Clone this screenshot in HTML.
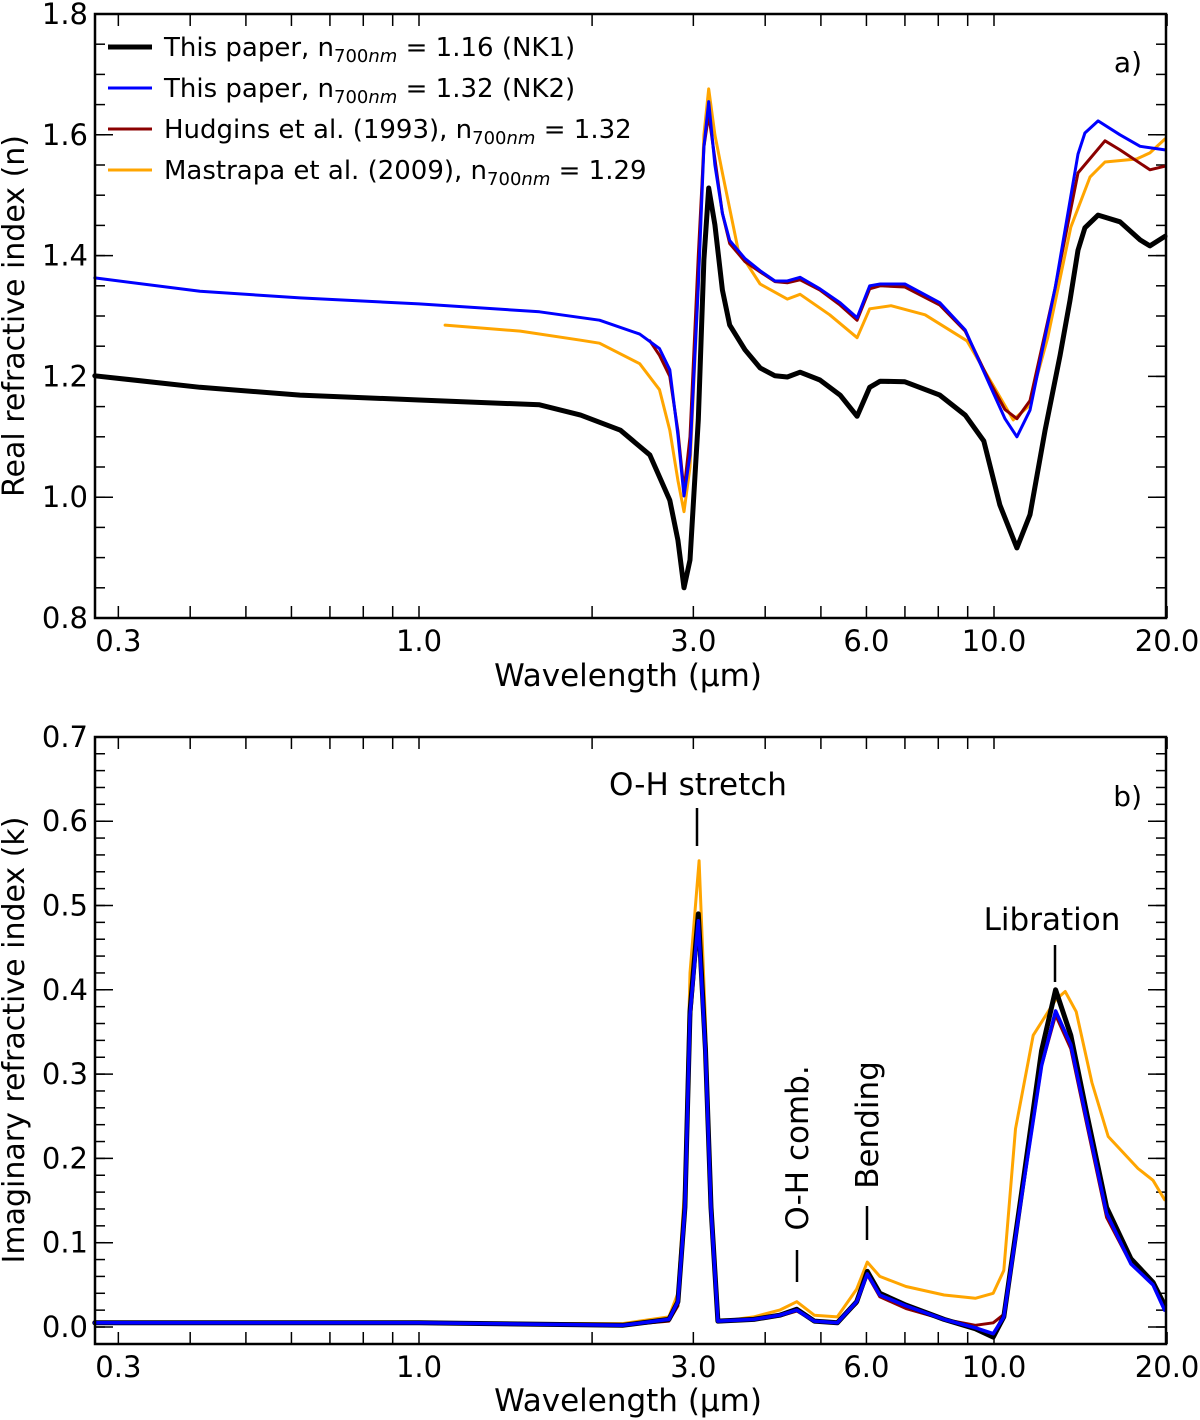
<!DOCTYPE html>
<html><head><meta charset="utf-8"><style>
body{margin:0;background:#fff}
svg{display:block;font-family:"DejaVu Sans","Liberation Sans",sans-serif}
</style></head><body>
<svg id="chart" width="1200" height="1420" viewBox="0 0 1200 1420" xmlns="http://www.w3.org/2000/svg"></svg>
<script>
// ---- Panel a data (wavelength µm, n) ----
const nk1W=[0.273,0.416,0.621,1.00,1.62,1.91,2.24,2.52,2.73,2.82,2.89,2.96,3.06,3.13,3.19,3.27,3.37,3.47,3.69,3.92,4.16,4.37,4.60,4.98,5.40,5.78,6.08,6.34,7.00,8.05,8.91,9.6,10.24,10.96,11.55,12.27,13.03,13.56,14.00,14.39,15.17,16.56,17.95,18.67,19.83];
const nk1N=[1.201,1.182,1.169,1.161,1.153,1.136,1.111,1.070,0.995,0.929,0.850,0.896,1.128,1.393,1.512,1.451,1.343,1.285,1.244,1.214,1.201,1.199,1.207,1.194,1.169,1.134,1.182,1.192,1.191,1.169,1.136,1.093,0.987,0.916,0.971,1.111,1.235,1.326,1.409,1.446,1.467,1.456,1.426,1.416,1.432];
const nk2W=[0.273,0.416,0.621,1.00,1.62,2.06,2.42,2.62,2.73,2.82,2.89,2.96,3.06,3.13,3.19,3.27,3.37,3.47,3.69,3.92,4.16,4.37,4.60,4.98,5.40,5.78,6.08,6.34,7.00,8.05,8.91,9.84,10.45,10.96,11.55,12.77,14.00,14.39,15.17,16.56,17.95,19.83];
const nk2N=[1.363,1.341,1.330,1.320,1.307,1.293,1.270,1.246,1.211,1.103,1.002,1.07,1.35,1.58,1.655,1.55,1.47,1.425,1.395,1.375,1.358,1.358,1.364,1.345,1.322,1.297,1.350,1.353,1.353,1.322,1.277,1.185,1.13,1.100,1.144,1.346,1.568,1.603,1.623,1.600,1.581,1.575];
const hudW=[2.52,2.62,2.73,2.82,2.89,2.96,3.06,3.13,3.19,3.27,3.37,3.47,3.69,3.92,4.16,4.37,4.60,4.98,5.40,5.78,6.08,6.34,7.00,8.05,8.91,9.84,10.45,10.96,11.55,12.77,14.00,15.60,16.56,18.67,19.83];
const hudN=[1.259,1.235,1.20,1.11,1.01,1.10,1.40,1.58,1.634,1.56,1.47,1.42,1.39,1.373,1.357,1.355,1.36,1.343,1.318,1.293,1.345,1.350,1.348,1.318,1.275,1.19,1.145,1.13,1.16,1.346,1.537,1.590,1.575,1.542,1.548];
const masW=[1.11,1.50,1.91,2.06,2.42,2.62,2.73,2.82,2.89,2.96,3.06,3.13,3.19,3.27,3.37,3.59,3.92,4.37,4.60,5.18,5.78,6.08,6.62,7.59,8.97,9.94,10.8,11.5,12.4,13.6,14.69,15.6,17.7,18.67,19.83];
const masN=[1.285,1.275,1.260,1.255,1.221,1.178,1.111,1.028,0.976,1.05,1.35,1.60,1.676,1.60,1.537,1.409,1.353,1.328,1.336,1.302,1.264,1.312,1.317,1.302,1.259,1.187,1.128,1.151,1.264,1.447,1.530,1.555,1.560,1.570,1.593];
// ---- Panel b data (wavelength µm, k) ----
const kW=[0.273,1.0,2.26,2.72,2.82,2.90,2.96,3.06,3.15,3.22,3.31,3.82,4.24,4.54,4.87,5.34,5.77,6.02,6.33,7.03,8.19,9.28,9.97,10.4,11.2,12.1,12.8,13.6,14.5,15.7,17.3,18.9,19.8];
const nk1K=[0.005,0.005,0.002,0.009,0.03,0.142,0.374,0.490,0.328,0.142,0.007,0.009,0.014,0.021,0.007,0.005,0.030,0.066,0.040,0.026,0.009,-0.002,-0.012,0.012,0.165,0.328,0.400,0.346,0.253,0.142,0.081,0.053,0.026];
const nk2K=[0.005,0.005,0.002,0.009,0.03,0.14,0.37,0.482,0.325,0.14,0.007,0.009,0.014,0.020,0.007,0.005,0.030,0.063,0.038,0.025,0.009,-0.001,-0.008,0.012,0.16,0.31,0.375,0.335,0.245,0.135,0.075,0.05,0.02];
const hudK=[0.005,0.005,0.002,0.007,0.025,0.13,0.36,0.478,0.32,0.13,0.006,0.009,0.013,0.019,0.007,0.005,0.028,0.062,0.036,0.022,0.009,0.002,0.005,0.015,0.16,0.31,0.37,0.33,0.24,0.13,0.075,0.05,0.02];
const masW2=[0.273,2.26,2.72,2.82,2.90,2.96,3.07,3.15,3.22,3.31,3.82,4.24,4.54,4.87,5.34,5.77,6.02,6.33,7.03,8.19,9.28,9.97,10.4,10.9,11.7,12.8,13.3,13.9,14.8,15.8,17.8,18.9,19.8];
const masK=[0.005,0.004,0.012,0.04,0.17,0.42,0.553,0.36,0.14,0.006,0.012,0.02,0.03,0.014,0.012,0.045,0.077,0.06,0.048,0.038,0.034,0.04,0.067,0.235,0.346,0.388,0.398,0.374,0.29,0.226,0.188,0.174,0.151];
const xTicks=[0.3,1.0,3.0,6.0,10.0,20.0];
const xTickLabels=["0.3","1.0","3.0","6.0","10.0","20.0"];
const xMinor=[0.4,0.5,0.6,0.7,0.8,0.9,2,4,5,7,8,9];
const nTicks=[0.8,1.0,1.2,1.4,1.6,1.8];
const kTicks=[0.0,0.1,0.2,0.3,0.4,0.5,0.6,0.7];

const svg=document.getElementById('chart');
const NS='http://www.w3.org/2000/svg';
function mk(tag,attrs,parent){const e=document.createElementNS(NS,tag);for(const k in attrs)e.setAttribute(k,attrs[k]);(parent||svg).appendChild(e);return e;}
const L=95,R=1166;
function X(w){return 419+575*Math.log10(w);}
function panel(top,bot,vmin,vmax){return v=>bot-(v-vmin)/(vmax-vmin)*(bot-top);}
const Ya=panel(14,618,0.8,1.8);
const YbTop=737,YbBot=1344;
const Yb=v=>1327-v*843;

function drawLine(ws,vs,Y,color,width,name){
  let d='';ws.forEach((w,i)=>{d+=(i?'L':'M')+X(w).toFixed(1)+','+Y(vs[i]).toFixed(1);});
  const p=mk('path',{d:d,fill:'none',stroke:color,'stroke-width':width,'stroke-linejoin':'round','stroke-linecap':'round'});
  
  
}
function text(x,y,s,size,anchor,name){
  const t=mk('text',{x:x,y:y,'font-size':size,'text-anchor':anchor||'middle',fill:'#000'});
  t.textContent=s;
  
  
  return t;
}
function axes(top,bot,Y,ticks,minorStep,vmin,vmax,pfx){
  const g=mk('g',{});
  
  
  xTicks.forEach((w,i)=>{
    mk('line',{x1:X(w),x2:X(w),y1:bot,y2:bot-12,stroke:'#000','stroke-width':1.5},g);
    mk('line',{x1:X(w),x2:X(w),y1:top,y2:top+12,stroke:'#000','stroke-width':1.5},g);
    text(X(w),bot+33,xTickLabels[i],29,'middle',pfx+'-x-tick-label');
  });
  xMinor.forEach(w=>{
    mk('line',{x1:X(w),x2:X(w),y1:bot,y2:bot-12,stroke:'#000','stroke-width':1.5},g);
    mk('line',{x1:X(w),x2:X(w),y1:top,y2:top+12,stroke:'#000','stroke-width':1.5},g);
  });
  for(let v=vmin;v<=vmax+1e-9;v+=minorStep){
    const y=Y(v);
    mk('line',{x1:L,x2:L+10,y1:y,y2:y,stroke:'#000','stroke-width':1.5},g);
    mk('line',{x1:R,x2:R-10,y1:y,y2:y,stroke:'#000','stroke-width':1.5},g);
  }
  ticks.forEach(v=>{
    const y=Y(v);
    mk('line',{x1:L,x2:L+18,y1:y,y2:y,stroke:'#000','stroke-width':1.5},g);
    mk('line',{x1:R,x2:R-18,y1:y,y2:y,stroke:'#000','stroke-width':1.5},g);
    text(L-7,y+10,v.toFixed(1),29,'end',pfx+'-y-tick-label');
  });
}
// Panel a
axes(14,618,Ya,nTicks,0.05,0.8,1.8,'panel-a');
drawLine(masW,masN,Ya,'#ffa500',3,'mastrapa-n-line');
drawLine(hudW,hudN,Ya,'#8b0000',3,'hudgins-n-line');
drawLine(nk2W,nk2N,Ya,'#0000ff',3,'nk2-n-line');
drawLine(nk1W,nk1N,Ya,'#000',5,'nk1-n-line');
mk('rect',{x:L,y:14,width:R-L,height:604,fill:'none',stroke:'#000','stroke-width':2.5});
// Panel b
axes(YbTop,YbBot,Yb,kTicks,0.02,0,0.7,'panel-b');
drawLine(masW2,masK,Yb,'#ffa500',3,'mastrapa-k-line');
drawLine(kW,hudK,Yb,'#8b0000',3,'hudgins-k-line');
drawLine(kW,nk1K,Yb,'#000',5,'nk1-k-line');
drawLine(kW,nk2K,Yb,'#0000ff',3.5,'nk2-k-line');
mk('rect',{x:L,y:YbTop,width:R-L,height:YbBot-YbTop,fill:'none',stroke:'#000','stroke-width':2.5});
</script>
<svg style="position:absolute;left:0;top:0" width="1200" height="1420" xmlns="http://www.w3.org/2000/svg" font-family="DejaVu Sans, Liberation Sans, sans-serif">
  <g font-size="26">
    <g><line x1="108" x2="152" y1="47" y2="47" stroke="#000" stroke-width="5"/><text x="164" y="56">This paper, n<tspan font-size="18" dy="6">700</tspan><tspan font-size="18" font-style="italic">nm</tspan><tspan dy="-6"> = 1.16 (NK1)</tspan></text></g>
    <g><line x1="108" x2="152" y1="88" y2="88" stroke="#0000ff" stroke-width="3"/><text x="164" y="97">This paper, n<tspan font-size="18" dy="6">700</tspan><tspan font-size="18" font-style="italic">nm</tspan><tspan dy="-6"> = 1.32 (NK2)</tspan></text></g>
    <g><line x1="108" x2="152" y1="129" y2="129" stroke="#8b0000" stroke-width="3"/><text x="164" y="138">Hudgins et al. (1993), n<tspan font-size="18" dy="6">700</tspan><tspan font-size="18" font-style="italic">nm</tspan><tspan dy="-6"> = 1.32</tspan></text></g>
    <g><line x1="108" x2="152" y1="170" y2="170" stroke="#ffa500" stroke-width="3"/><text x="164" y="179">Mastrapa et al. (2009), n<tspan font-size="18" dy="6">700</tspan><tspan font-size="18" font-style="italic">nm</tspan><tspan dy="-6"> = 1.29</tspan></text></g>
  </g>
  <text x="1142" y="72" font-size="28" text-anchor="end">a)</text>
  <text x="1142" y="806" font-size="28" text-anchor="end">b)</text>
  <text x="628" y="686" font-size="31" text-anchor="middle">Wavelength (µm)</text>
  <text x="628" y="1411" font-size="31" text-anchor="middle">Wavelength (µm)</text>
  <text transform="translate(24 316) rotate(-90)" font-size="30" text-anchor="middle">Real refractive index (n)</text>
  <text transform="translate(24 1040) rotate(-90)" font-size="30" text-anchor="middle">Imaginary refractive index (k)</text>
  <g font-size="31" stroke-width="2.5">
    <text x="698" y="795" text-anchor="middle">O-H stretch</text>
    <line x1="697" x2="697" y1="808" y2="846" stroke="#000"/>
    <text x="1052" y="930" text-anchor="middle">Libration</text>
    <line x1="1055" x2="1055" y1="945" y2="982" stroke="#000"/>
    <text transform="translate(808 1148) rotate(-90)" text-anchor="middle">O-H comb.</text>
    <line x1="797" x2="797" y1="1250" y2="1282" stroke="#000"/>
    <text transform="translate(878 1125) rotate(-90)" text-anchor="middle">Bending</text>
    <line x1="867" x2="867" y1="1206" y2="1240" stroke="#000"/>
  </g>
</svg>
</body></html>
